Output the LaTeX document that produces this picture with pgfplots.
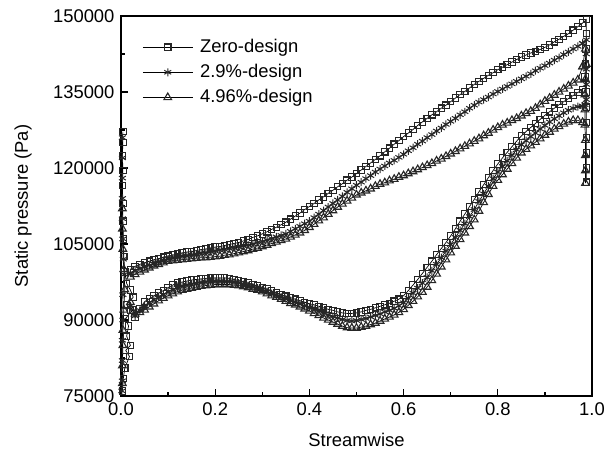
\documentclass[border=0pt]{standalone}
\usepackage{fontspec}
\setmainfont{Liberation Sans}
\usepackage{pgfplots}
\usepackage{pgfplotstable}
\pgfplotsset{compat=1.18}
% static pressure in kPa (tick labels in Pa)
\pgfplotstableread{
x zu su tu zl sl tl
0.02 100.0 99.3 98.5 92.0 92.8 93.5
0.03 100.6 99.8 99.0 90.5 90.8 91.2
0.04 101.0 100.2 99.5 92.3 91.9 91.5
0.05 101.3 100.5 99.9 93.6 92.8 92.0
0.06 101.6 100.8 100.3 94.2 93.4 92.6
0.07 101.9 101.1 100.7 94.8 94.0 93.2
0.08 102.1 101.4 101.0 95.3 94.6 93.8
0.09 102.4 101.7 101.3 95.8 95.0 94.3
0.10 102.6 102.0 101.6 96.4 95.6 94.8
0.11 102.8 102.2 101.7 96.9 96.0 95.2
0.12 103.0 102.4 101.8 97.3 96.4 95.6
0.13 103.2 102.6 101.9 97.5 96.7 95.9
0.14 103.4 102.7 102.0 97.7 96.9 96.1
0.15 103.5 102.9 102.1 97.9 97.1 96.3
0.16 103.7 103.0 102.2 98.0 97.2 96.5
0.17 103.9 103.2 102.3 98.1 97.4 96.7
0.18 104.0 103.3 102.3 98.2 97.5 96.8
0.19 104.2 103.5 102.4 98.3 97.6 96.9
0.20 104.4 103.6 102.5 98.3 97.6 97.0
0.21 104.5 103.8 102.6 98.3 97.6 97.0
0.22 104.7 103.9 102.8 98.3 97.6 97.0
0.23 104.9 104.1 102.9 98.2 97.6 97.0
0.24 105.1 104.2 103.1 98.0 97.4 96.9
0.25 105.3 104.4 103.3 97.8 97.3 96.8
0.26 105.6 104.6 103.5 97.5 97.0 96.6
0.27 105.9 104.8 103.7 97.3 96.8 96.4
0.28 106.3 105.0 104.0 97.0 96.5 96.1
0.29 106.6 105.3 104.2 96.7 96.3 95.9
0.30 107.0 105.5 104.5 96.4 96.0 95.6
0.31 107.4 105.8 104.8 96.1 95.6 95.2
0.32 107.9 106.1 105.1 95.7 95.2 94.8
0.33 108.3 106.4 105.4 95.4 94.9 94.5
0.34 108.8 106.7 105.7 95.0 94.5 94.1
0.35 109.3 107.0 106.0 94.7 94.2 93.7
0.36 109.9 107.5 106.4 94.4 93.8 93.3
0.37 110.5 108.0 106.8 94.1 93.5 93.0
0.38 111.1 108.5 107.2 93.8 93.2 92.6
0.39 111.8 109.0 107.7 93.5 92.8 92.2
0.40 112.4 109.5 108.3 93.2 92.5 91.8
0.41 113.0 110.2 108.9 93.0 92.1 91.3
0.42 113.7 110.9 109.6 92.7 91.8 90.9
0.43 114.3 111.6 110.2 92.4 91.4 90.4
0.44 115.0 112.3 110.9 92.1 91.0 90.0
0.45 115.6 113.0 111.6 91.9 90.7 89.6
0.46 116.3 113.7 112.3 91.6 90.4 89.2
0.47 116.9 114.4 112.9 91.4 90.1 88.8
0.48 117.6 115.2 113.5 91.3 89.9 88.5
0.49 118.2 115.9 114.1 91.3 89.8 88.4
0.50 118.9 116.6 114.7 91.4 89.9 88.4
0.51 119.6 117.2 115.1 91.6 90.1 88.6
0.52 120.3 117.9 115.5 91.9 90.3 88.8
0.53 121.0 118.5 115.9 92.1 90.6 89.1
0.54 121.7 119.2 116.4 92.4 90.9 89.4
0.55 122.4 119.8 116.8 92.7 91.2 89.8
0.56 123.2 120.4 117.1 93.0 91.6 90.2
0.57 123.9 121.0 117.5 93.3 91.9 90.6
0.58 124.7 121.5 117.8 93.7 92.3 91.0
0.59 125.4 122.1 118.2 94.1 92.8 91.5
0.60 126.2 122.7 118.5 94.8 93.4 92.1
0.61 126.9 123.4 118.9 95.8 94.3 92.9
0.62 127.6 124.0 119.3 96.9 95.3 93.7
0.63 128.4 124.7 119.7 98.0 96.3 94.6
0.64 129.1 125.3 120.1 99.2 97.3 95.5
0.65 129.8 126.0 120.5 100.4 98.4 96.5
0.66 130.5 126.6 120.9 101.6 99.7 97.8
0.67 131.1 127.3 121.4 102.9 101.0 99.1
0.68 131.8 127.9 121.8 104.1 102.3 100.5
0.69 132.4 128.6 122.3 105.3 103.6 101.9
0.70 133.1 129.2 122.8 106.6 104.9 103.3
0.71 133.8 129.8 123.3 108.0 106.3 104.6
0.72 134.5 130.5 123.8 109.5 107.7 105.9
0.73 135.1 131.1 124.3 110.9 109.0 107.2
0.74 135.8 131.8 124.8 112.4 110.4 108.5
0.75 136.5 132.4 125.3 113.8 111.8 109.8
0.76 137.1 133.0 125.8 115.3 113.4 111.5
0.77 137.7 133.5 126.4 116.7 114.9 113.2
0.78 138.3 134.0 126.9 118.1 116.4 114.8
0.79 138.8 134.6 127.5 119.5 117.9 116.4
0.80 139.4 135.1 128.0 120.8 119.2 117.6
0.81 139.9 135.6 128.5 122.0 120.3 118.7
0.82 140.4 136.1 128.9 123.1 121.4 119.8
0.83 140.9 136.6 129.4 124.2 122.5 120.9
0.84 141.4 137.1 129.8 125.3 123.6 122.0
0.85 141.9 137.6 130.3 126.3 124.6 123.0
0.86 142.3 138.1 130.8 127.2 125.4 123.7
0.87 142.7 138.6 131.2 128.0 126.2 124.4
0.88 143.0 139.2 131.8 128.8 126.9 125.1
0.89 143.4 139.7 132.5 129.6 127.7 125.8
0.90 143.8 140.2 133.2 130.4 128.4 126.5
0.91 144.3 140.7 133.8 131.1 129.1 127.1
0.92 144.9 141.3 134.4 131.8 129.7 127.7
0.93 145.4 141.8 135.0 132.5 130.3 128.2
0.94 146.0 142.4 135.6 133.1 130.9 128.7
0.95 146.5 142.9 136.2 133.7 131.4 129.1
0.96 147.2 143.5 136.8 134.3 131.8 129.4
0.97 147.9 144.0 137.4 134.9 132.1 129.4
0.98 148.6 144.6 140.0 135.5 132.2 129.0
}\data

\pgfplotsset{
  zs/.style={black, line width=0.35pt, mark=square, mark size=1.6pt,
    mark options={solid, line width=0.55pt, draw=black!85, fill=none}},
  ss/.style={black, line width=0.35pt, mark=asterisk, mark size=2.0pt,
    mark options={solid, line width=0.5pt, draw=black!85}},
  ts/.style={black, line width=0.35pt, mark=triangle, mark size=2.2pt,
    mark options={solid, line width=0.55pt, draw=black!85, fill=none}},
}

\begin{document}
\fontsize{9.2}{11}\selectfont
\begin{tikzpicture}
\begin{axis}[
  width=235.5pt, height=190pt, scale only axis,
  xmin=0, xmax=1, ymin=75, ymax=150,
  xtick={0,0.2,0.4,0.6,0.8,1},
  xticklabels={0.0,0.2,0.4,0.6,0.8,1.0},
  ytick={75,90,105,120,135,150},
  yticklabels={75000,90000,105000,120000,135000,150000},
  minor x tick num=1, minor y tick num=1,
  tick align=inside, xtick pos=bottom, ytick pos=left,
  major tick length=3.5pt, minor tick length=2pt,
  every tick/.style={black, line width=0.6pt},
  axis line style={line width=0.9pt},
  tick label style={font=\fontsize{9.2}{11}\selectfont},
  xlabel={Streamwise}, ylabel={Static pressure (Pa)},
  xlabel style={at={(axis description cs:0.5,-0.1158)}, anchor=center, font=\fontsize{9.2}{11}\selectfont},
  ylabel style={at={(axis description cs:-0.208,0.5)}, anchor=center, font=\fontsize{9.2}{11}\selectfont},
  legend style={at={(axis description cs:0.0446,0.948)}, anchor=north west,
    draw=none, fill=none, inner sep=0pt, row sep=1.5pt, column sep=2pt,
    nodes={inner sep=1.5pt, anchor=west}, font=\fontsize{9.2}{11}\selectfont},
  legend cell align=left,
  legend image code/.code={\draw[mark repeat=2,mark phase=2,#1] plot coordinates {(0pt,0pt) (12.5pt,0pt) (25pt,0pt)};},
]
\addplot[zs] table[x=x, y=zu] {\data};
\addlegendentry{Zero-design}
\addplot[ss] table[x=x, y=su] {\data};
\addlegendentry{2.9\%-design}
\addplot[ts] table[x=x, y=tu] {\data};
\addlegendentry{4.96\%-design}

\addplot[zs, forget plot] table[x=x, y=zl] {\data};
\addplot[ss, forget plot] table[x=x, y=sl] {\data};
\addplot[ts, forget plot] table[x=x, y=tl] {\data};

% leading edge
\addplot[zs, forget plot] coordinates {(0.004,127.2) (0.004,125.0) (0.003,122.5) (0.004,119.5) (0.003,116.5) (0.004,113.0) (0.004,109.5) (0.005,106.0) (0.006,102.5) (0.008,99.5) (0.012,97.2) (0.020,95.9) (0.026,94.5) (0.012,93.0) (0.024,92.0) (0.010,90.3) (0.016,88.8) (0.012,86.8) (0.020,85.0) (0.010,84.0) (0.018,82.8) (0.008,80.5) (0.005,78.5) (0.003,76.0)};
\addplot[ss, forget plot] coordinates {(0.003,126.0) (0.003,122.0) (0.003,118.0) (0.003,114.0) (0.003,110.0) (0.004,106.0) (0.005,102.0) (0.007,99.0) (0.004,95.0) (0.004,90.0) (0.003,86.0) (0.003,82.0) (0.003,78.0) (0.002,76.0)};
\addplot[ts, forget plot] coordinates {(0.003,112.0) (0.003,108.0) (0.004,104.0) (0.006,100.0) (0.008,96.0) (0.006,92.0) (0.004,88.0) (0.004,85.0) (0.003,81.0) (0.003,77.5)};

% trailing edge
\addplot[zs, forget plot] coordinates {(0.98,148.6) (0.988,149.3) (0.988,146.5) (0.987,143.5) (0.986,140.5) (0.985,138.0) (0.987,135.0) (0.988,132.0) (0.988,129.0) (0.988,126.0) (0.988,123.0) (0.988,120.0) (0.988,117.2)};
\addplot[ss, forget plot] coordinates {(0.98,144.6) (0.988,145.3) (0.988,142.5) (0.988,139.5) (0.988,136.5) (0.988,133.5) (0.985,132.5) (0.98,132.2)};
\addplot[ts, forget plot] coordinates {(0.98,140.0) (0.986,143.5) (0.988,140.5) (0.986,137.5) (0.985,134.5) (0.985,131.5) (0.985,128.5) (0.986,125.5) (0.986,122.5) (0.986,119.5) (0.986,117.0)};
\end{axis}
\pgfresetboundingbox
\path ([shift={(-60.5pt,-28pt)}]current axis.south west) rectangle ([shift={(12pt,8pt)}]current axis.north east);
\end{tikzpicture}
\end{document}
